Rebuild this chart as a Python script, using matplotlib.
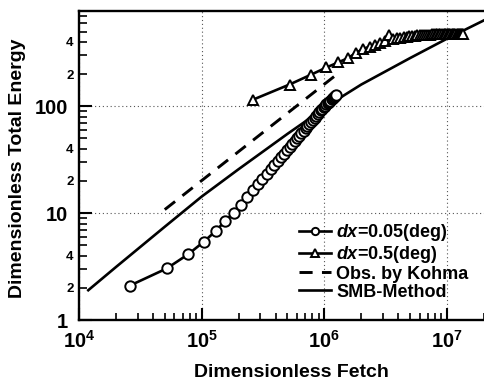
import math
import matplotlib
matplotlib.use('Agg')
import matplotlib.pyplot as plt
from matplotlib.ticker import FixedLocator, FuncFormatter

plt.rcParams['font.family'] = ['Liberation Sans', 'DejaVu Sans']
plt.rcParams['font.weight'] = 'bold'
plt.rcParams['mathtext.fontset'] = 'custom'
plt.rcParams['mathtext.rm'] = 'Liberation Sans:bold'
plt.rcParams['mathtext.it'] = 'Liberation Sans:bold:italic'
plt.rcParams['mathtext.bf'] = 'Liberation Sans:bold'

# dx = 0.05 (deg)
circle_fetch = [2.6e4, 5.2e4, 7.8e4, 1.04e5, 1.3e5, 1.56e5, 1.82e5, 2.08e5, 2.34e5, 2.6e5,
                2.86e5, 3.12e5, 3.38e5, 3.64e5, 3.9e5, 4.16e5, 4.42e5, 4.68e5, 4.94e5, 5.2e5,
                5.46e5, 5.72e5, 5.98e5, 6.24e5, 6.5e5, 6.76e5, 7.02e5, 7.28e5, 7.54e5, 7.8e5,
                8.06e5, 8.32e5, 8.58e5, 8.84e5, 9.1e5, 9.36e5, 9.62e5, 9.88e5, 1.014e6, 1.04e6,
                1.066e6, 1.092e6, 1.118e6, 1.144e6, 1.17e6, 1.196e6, 1.222e6, 1.248e6]
circle_energy = [2.1, 3.04, 4.14, 5.4, 6.8, 8.5, 10.1, 12.0, 14.2, 16.6,
                 18.6, 20.9, 23.3, 25.8, 28.3, 30.8, 33.4, 36.1, 38.8, 41.6,
                 44.4, 47.2, 50.2, 53.1, 56.1, 59.2, 62.2, 65.3, 68.4, 71.6,
                 74.8, 78.1, 81.3, 84.7, 88.1, 91.5, 94.9, 98.4, 101.6, 104.4,
                 107.4, 110.2, 113.0, 115.9, 118.9, 121.8, 124.7, 127.6]

# dx = 0.5 (deg)
tri_fetch = [2.6e5, 5.2e5, 7.8e5, 1.04e6, 1.3e6, 1.56e6, 1.82e6, 2.08e6, 2.34e6, 2.6e6,
             2.86e6, 3.12e6, 3.38e6, 3.64e6, 3.9e6, 4.16e6, 4.42e6, 4.68e6, 4.94e6, 5.2e6,
             5.46e6, 5.72e6, 5.98e6, 6.24e6, 6.5e6, 6.76e6, 7.02e6, 7.28e6, 7.54e6, 7.8e6,
             8.06e6, 8.32e6, 8.58e6, 8.84e6, 9.1e6, 9.36e6, 9.62e6, 9.88e6, 1.014e7, 1.04e7,
             1.066e7, 1.092e7, 1.118e7, 1.144e7, 1.17e7, 1.196e7, 1.222e7, 1.248e7, 1.274e7, 1.3e7,
             1.326e7, 1.352e7]
tri_energy = [115, 160, 198, 231, 258, 283, 318, 345, 362, 378,
              392, 405, 470, 425, 432, 438, 443, 448, 452, 456,
              459, 462, 464, 466, 468, 469, 470, 470, 471, 471,
              472, 472, 472, 473, 473, 473, 474, 474, 474, 474,
              475, 475, 475, 475, 475, 476, 476, 476, 476, 476,
              476, 476]

# Observations by Kohma
kohma_fetch = [5.0e4, 1.32e6]
kohma_energy = [10.8, 207]

# SMB method
smb_fetch = [1.19e4, 2e4, 5e4, 1e5, 2e5, 5e5, 1e6, 1.45e6, 2e6, 5e6, 1e7, 2e7]
smb_energy = [1.9, 3.13, 7.46, 14.3, 25.8, 55.2, 96, 127, 160, 283, 430, 638]

xtick_vals = [1e4, 1e5, 1e6, 1e7]
ytick_vals = [1, 10, 100]

fig = plt.figure(figsize=(4.84, 3.91), dpi=100)
ax = fig.add_axes([79/484, 71/391, 405/484, 309/391])
ax.set_xscale('log')
ax.set_yscale('log')

ax.plot(circle_fetch, circle_energy, '-o', color='black', lw=1.9, ms=7.5,
        mfc='white', mec='black', mew=1.4, label=r'$dx$=0.05(deg)', zorder=4)
ax.plot(tri_fetch, tri_energy, '-^', color='black', lw=1.9, ms=7.5,
        mfc='white', mec='black', mew=1.4, label=r'$dx$=0.5(deg)', zorder=4)
ax.plot(kohma_fetch, kohma_energy, color='black', lw=2.1, dashes=(4.5, 3.2),
        label='Obs. by Kohma', zorder=3)
ax.plot(smb_fetch, smb_energy, color='black', lw=1.9, label='SMB-Method', zorder=3)

ax.set_xlim(1e4, 2e7)
ax.set_ylim(1, 780)

ax.xaxis.set_major_locator(FixedLocator(xtick_vals))
ax.xaxis.set_major_formatter(FuncFormatter(lambda v, p: r'$10^{%d}$' % round(math.log10(v))))
xminor = [m * 10**e for e in range(4, 8) for m in range(2, 10)]
ax.xaxis.set_minor_locator(FixedLocator(xminor))
ax.xaxis.set_minor_formatter(FuncFormatter(lambda v, p: ''))

ax.yaxis.set_major_locator(FixedLocator(ytick_vals))
ax.yaxis.set_major_formatter(FuncFormatter(lambda v, p: '%d' % round(v)))
yminor = [m * 10**e for e in range(0, 3) for m in range(2, 10)]
ax.yaxis.set_minor_locator(FixedLocator(yminor))

def yminor_fmt(v, p):
    m = round(v / 10**math.floor(math.log10(v) + 1e-9))
    return str(m) if m in (2, 4) else ''
ax.yaxis.set_minor_formatter(FuncFormatter(yminor_fmt))

ax.tick_params(axis='both', which='both', direction='in', colors='black')
ax.tick_params(axis='x', which='major', length=9, width=1.5, labelsize=14.5, pad=7)
ax.tick_params(axis='x', which='minor', length=5, width=1.2)
ax.tick_params(axis='y', which='major', length=9, width=1.5, labelsize=14.5, pad=8)
ax.tick_params(axis='y', which='minor', length=6, width=1.2, labelsize=9.5, pad=4)

for s in ['left', 'bottom', 'top']:
    ax.spines[s].set_linewidth(1.7)
ax.spines['right'].set_visible(False)

ax.grid(True, which='major', linestyle=(0, (1, 2.5)), color='#555555', lw=0.8)

ax.set_xlabel('Dimensionless Fetch', fontsize=14, fontweight='bold')
ax.set_ylabel('Dimensionless Total Energy', fontsize=14, fontweight='bold')
ax.xaxis.set_label_coords((291.5 - 79) / 405, (320 - 364) / 309)
ax.yaxis.set_label_coords((26 - 79) / 405, (320 - 168.5) / 309)

leg = ax.legend(loc='upper left', bbox_to_anchor=(299/484, 1 - 222/391),
                bbox_transform=fig.transFigure, frameon=False, fontsize=13,
                handlelength=1.75, handletextpad=0.3, labelspacing=0.05,
                borderpad=0, borderaxespad=0, markerscale=0.7)

fig.savefig('out.png', dpi=100)
